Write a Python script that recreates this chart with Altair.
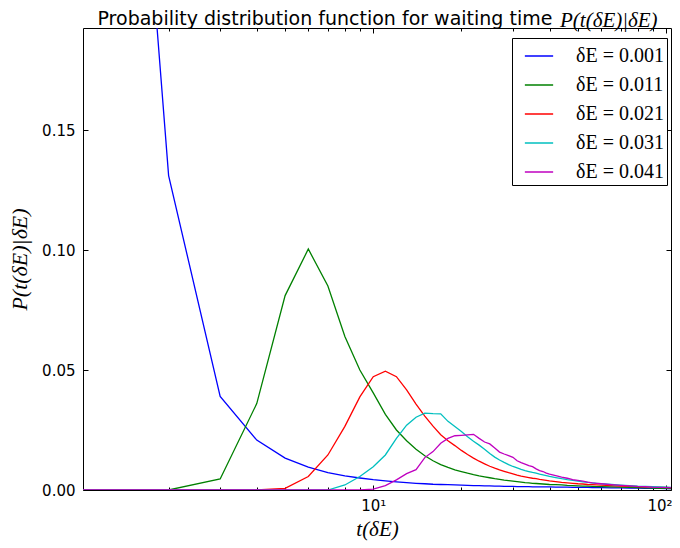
import altair as alt
import pandas as pd

labels = ["δE = 0.001", "δE = 0.011", "δE = 0.021", "δE = 0.031", "δE = 0.041"]
colors = ["#0000ff", "#008000", "#ff0000", "#00bfbf", "#bf00bf"]

t_vals = list(range(1, 41)) + [42, 44, 46, 48, 50, 52, 54, 56, 58, 60,
                               65, 70, 75, 80, 85, 90, 95, 100, 105, 106]

p_001 = [0.60, 0.131, 0.039, 0.0208, 0.0133, 0.0095, 0.0072, 0.0059, 0.0050, 0.0043,
         0.0038, 0.0034, 0.0031, 0.0028, 0.0026, 0.0024, 0.0023, 0.0022, 0.0021, 0.0020,
         0.0019, 0.0018, 0.0018, 0.0017, 0.0017, 0.0016, 0.0016, 0.0015, 0.0015, 0.0015,
         0.0014, 0.0014, 0.0014, 0.0014, 0.0013, 0.0013, 0.0013, 0.0013, 0.0013, 0.0013,
         0.0012, 0.0012, 0.0012, 0.0011, 0.0011, 0.0011, 0.0011, 0.0010, 0.0010, 0.0010,
         0.0009, 0.0009, 0.0008, 0.0008, 0.0007, 0.0007, 0.0007, 0.0006, 0.0006, 0.0006]

p_011 = [0.0, 0.0, 0.0046, 0.036, 0.081, 0.1004, 0.085, 0.064, 0.050, 0.0405,
         0.0315, 0.025, 0.0205, 0.0170, 0.0143, 0.0122, 0.0106, 0.0094, 0.0084, 0.0077,
         0.0070, 0.0064, 0.0059, 0.0055, 0.0051, 0.0047, 0.0044, 0.0041, 0.0039, 0.0037,
         0.0035, 0.0033, 0.0031, 0.0030, 0.0028, 0.0027, 0.0026, 0.0025, 0.0024, 0.0023,
         0.0022, 0.0021, 0.0019, 0.0018, 0.0017, 0.0016, 0.0016, 0.0015, 0.0014, 0.0014,
         0.0013, 0.0012, 0.0011, 0.0010, 0.0009, 0.0008, 0.0007, 0.0007, 0.0006, 0.0006]

p_021 = [0.0, 0.0, 0.0, 0.0, 0.0007, 0.0056, 0.0146, 0.0265, 0.0388, 0.0472,
         0.0495, 0.0472, 0.0417, 0.0358, 0.0308, 0.0266, 0.0230, 0.0205, 0.0185, 0.0165,
         0.0148, 0.0133, 0.0120, 0.0109, 0.0099, 0.0091, 0.0084, 0.0078, 0.0072, 0.0067,
         0.0062, 0.0058, 0.0055, 0.0052, 0.0049, 0.0047, 0.0044, 0.0042, 0.0040, 0.0038,
         0.0035, 0.0032, 0.0030, 0.0028, 0.0026, 0.0025, 0.0023, 0.0022, 0.0021, 0.0020,
         0.0018, 0.0016, 0.0015, 0.0014, 0.0013, 0.0012, 0.0011, 0.0011, 0.0010, 0.0010]

p_031 = [0.0, 0.0, 0.0, 0.0, 0.0, 0.0, 0.0, 0.0021, 0.0056, 0.0097,
         0.0146, 0.0215, 0.0270, 0.0303, 0.0320, 0.0318, 0.0317, 0.0286, 0.0265, 0.0244,
         0.0222, 0.0203, 0.0187, 0.0170, 0.0152, 0.0137, 0.0125, 0.0115, 0.0106, 0.0098,
         0.0092, 0.0086, 0.0081, 0.0077, 0.0073, 0.0070, 0.0066, 0.0063, 0.0060, 0.0057,
         0.0052, 0.0047, 0.0043, 0.0040, 0.0037, 0.0034, 0.0032, 0.0030, 0.0028, 0.0026,
         0.0023, 0.0020, 0.0018, 0.0016, 0.0015, 0.0014, 0.0013, 0.0012, 0.0011, 0.0011]

p_041 = [0.0, 0.0, 0.0, 0.0, 0.0, 0.0, 0.0, 0.0, 0.0, 0.0004,
         0.0018, 0.0042, 0.0068, 0.0085, 0.0135, 0.0160, 0.0195, 0.0215, 0.0226, 0.0228,
         0.0230, 0.0232, 0.0215, 0.0200, 0.0192, 0.0175, 0.0158, 0.0150, 0.0143, 0.0136,
         0.0122, 0.0114, 0.0108, 0.0102, 0.0097, 0.0088, 0.0081, 0.0077, 0.0070, 0.0066,
         0.0060, 0.0054, 0.0049, 0.0043, 0.0040, 0.0037, 0.0033, 0.0030, 0.0028, 0.0026,
         0.0022, 0.0019, 0.0017, 0.0015, 0.0014, 0.0012, 0.0011, 0.0010, 0.0010, 0.0009]

x_major = [10, 100]
x_minor = [2, 3, 4, 5, 6, 7, 8, 9, 20, 30, 40, 50, 60, 70, 80, 90]
y_ticks = [0.0, 0.05, 0.10, 0.15]

title_text = ["Probability distribution function for waiting time"]
title_math = ["P(t(δE)|δE)"]

rows = []
for lab, series in zip(labels, [p_001, p_011, p_021, p_031, p_041]):
    for t, p in zip(t_vals, series):
        rows.append({"t": t, "p": p, "series": lab})
df = pd.DataFrame(rows)

xs = alt.Scale(type="log", domain=[1.02, 104], nice=False)
ys = alt.Scale(domain=[0, 0.1925], nice=False, zero=False)

tick_common = dict(domain=False, grid=False, tickColor="black", tickWidth=1,
                   labelColor="black", labelFont="DejaVu Sans", labelFontSize=15)

base = alt.Chart(df)

lines = base.mark_line(strokeWidth=1.3, clip=True).encode(
    x=alt.X("t:Q", scale=xs, axis=alt.Axis(
        values=x_major, orient="bottom", offset=-5, tickSize=5, labelPadding=8,
        labelExpr="datum.value == 10 ? '10¹' : '10²'",
        labelAlign={"condition": {"test": "datum.value == 100", "value": "right"}, "value": "center"},
        labelOffset={"condition": {"test": "datum.value == 100", "value": 6}, "value": 0},
        title="t(δE)", titleFont="Liberation Serif", titleFontStyle="italic",
        titleFontWeight="normal", titleFontSize=21, titleColor="black", titlePadding=5,
        **tick_common)),
    y=alt.Y("p:Q", scale=ys, axis=alt.Axis(
        values=y_ticks, format=".2f", orient="left", offset=-5, tickSize=5, labelPadding=8,
        title="P(t(δE)|δE)", titleFont="Liberation Serif", titleFontStyle="italic",
        titleFontWeight="normal", titleFontSize=22, titleColor="black", titlePadding=10,
        **tick_common)),
    color=alt.Color("series:N", scale=alt.Scale(domain=labels, range=colors),
                    legend=alt.Legend(
                        title=None, orient="none", legendX=429, legendY=10,
                        symbolType="stroke", symbolSize=800, symbolStrokeWidth=1.5,
                        symbolOffset=9, padding=3,
                        labelFont="Liberation Serif", labelFontSize=20, labelColor="black",
                        labelOffset=22, rowPadding=4, strokeColor="black", fillColor="white",
                        cornerRadius=0)),
)

minor_bottom = base.mark_line(opacity=0).encode(
    x=alt.X("t:Q", scale=xs, axis=alt.Axis(values=x_minor, orient="bottom", offset=-3,
                                           tickSize=3, labels=False, title=None, **tick_common)),
    y=alt.Y("p:Q", scale=ys, axis=alt.Axis(values=y_ticks, orient="right", offset=-5,
                                           tickSize=5, labels=False, title=None, **tick_common)),
    detail="series:N",
)

major_top = base.mark_line(opacity=0).encode(
    x=alt.X("t:Q", scale=xs, axis=alt.Axis(values=x_major, orient="top", offset=-5,
                                           tickSize=5, labels=False, title=None, **tick_common)),
    y=alt.Y("p:Q", scale=ys, axis=None),
    detail="series:N",
)

minor_top = base.mark_line(opacity=0).encode(
    x=alt.X("t:Q", scale=xs, axis=alt.Axis(values=x_minor, orient="top", offset=-3,
                                           tickSize=3, labels=False, title=None, **tick_common)),
    y=alt.Y("p:Q", scale=ys, axis=None),
    detail="series:N",
)

title_sans = alt.Chart(pd.DataFrame({"s": title_text})).mark_text(
    align="left", baseline="alphabetic", font="DejaVu Sans", fontSize=19, color="black"
).encode(x=alt.value(14.5), y=alt.value(-3), text="s:N")

math_title = alt.Chart(pd.DataFrame({"s": title_math})).mark_text(
    align="left", baseline="alphabetic", font="Liberation Serif", fontStyle="italic",
    fontSize=21, color="black"
).encode(x=alt.value(477), y=alt.value(-1), text="s:N")

chart = alt.layer(lines, minor_bottom, major_top, minor_top, title_sans, math_title).resolve_axis(
    x="independent", y="independent"
).properties(
    width=588, height=462,
    padding={"left": 75, "top": 20, "right": 1, "bottom": 51},
    autosize=alt.AutoSizeParams(type="none"),
).configure_view(stroke="black", strokeWidth=1)

chart.save("out.html", embed_options={"renderer": "svg", "actions": False})
